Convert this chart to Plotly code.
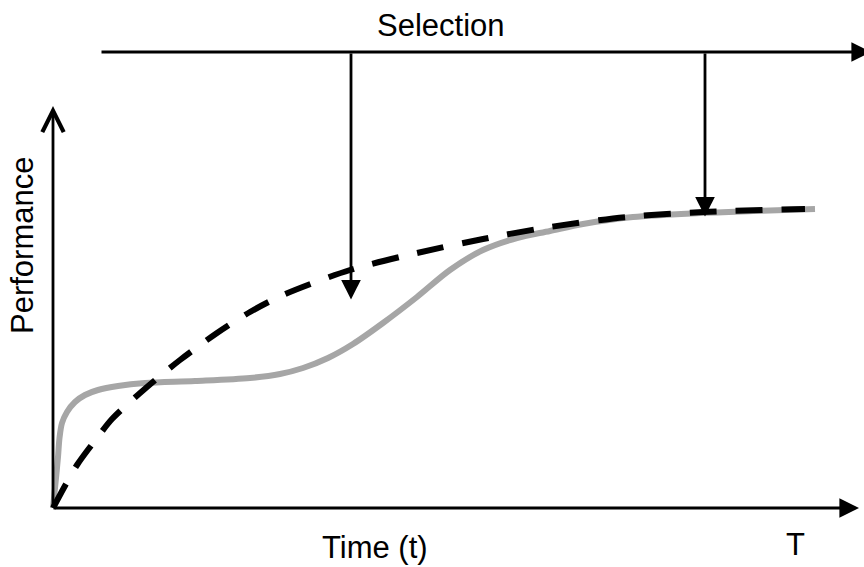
import plotly.graph_objects as go

# Conceptual data (x = time, y = performance), origin at the axes corner
gray_t = [0, 3, 5, 6.5, 9, 14, 22, 32, 45, 65, 92, 142, 197, 227, 250, 275, 300, 330, 364, 397, 430, 464, 497, 530, 580, 647, 700, 762]
gray_p = [0, 30, 51, 70, 85, 96, 106, 113, 118, 122, 125, 127, 130, 134, 140, 150, 164, 185, 211, 238, 258, 270, 277, 284, 291, 295, 297, 299]

dash_t = [0, 24, 44, 59, 94, 127, 164, 197, 230, 297, 364, 430, 497, 574, 650, 752]
dash_p = [0, 43, 70, 89, 121, 148, 175, 196, 213, 238, 255, 269, 281, 291, 296, 299]

sel_times = [298, 652]
sel_tips = [208.5, 291.5]
sel_level = 456
sel_end = 818
axis_x_end = 806
axis_y_end = 402
T_pos = 742

fig = go.Figure()
fig.add_trace(go.Scatter(x=gray_t, y=gray_p, mode="lines",
                         line=dict(color="#A6A6A6", width=6, shape="spline", smoothing=0.9),
                         hoverinfo="skip", showlegend=False))
fig.add_trace(go.Scatter(x=dash_t, y=dash_p, mode="lines",
                         line=dict(color="black", width=6, dash="27px,19px", shape="spline", smoothing=0.8),
                         hoverinfo="skip", showlegend=False))

ann = []
def arrow(x, y, ax, ay, head=2, size=1.4, width=2.8):
    ann.append(dict(x=x, y=y, ax=ax, ay=ay, xref="x", yref="y", axref="x", ayref="y",
                    showarrow=True, arrowhead=head, arrowsize=size, arrowwidth=width,
                    arrowcolor="black", text="", standoff=0))

# axes
arrow(axis_x_end, 0, -1, 0)
arrow(0, axis_y_end, 0, -1, head=5, size=1.5)
# selection line
arrow(sel_end, sel_level, 47, sel_level)
for t, tip in zip(sel_times, sel_tips):
    arrow(t, tip, t, sel_level)

font = dict(family="Liberation Sans, Arial, sans-serif", size=31, color="black")
ann.append(dict(x=388, y=483, xref="x", yref="y", text="Selection", showarrow=False, font=font))
ann.append(dict(x=322, y=-39, xref="x", yref="y", text="Time (t)", showarrow=False, font=font))
ann.append(dict(x=T_pos, y=-36, xref="x", yref="y", text="T", showarrow=False, font=font))
ann.append(dict(x=-31, y=262, xref="x", yref="y", text="Performance", textangle=-90, showarrow=False, font=font))

fig.update_layout(
    width=864, height=567,
    margin=dict(l=0, r=0, t=0, b=0),
    paper_bgcolor="white", plot_bgcolor="white",
    xaxis=dict(range=[-53, 811], visible=False, fixedrange=True),
    yaxis=dict(range=[-59, 508], visible=False, fixedrange=True),
    annotations=ann,
)
fig.write_html("out.html", config={"displayModeBar": False},
               post_script="document.body.style.margin='0';document.body.style.overflow='hidden';")
